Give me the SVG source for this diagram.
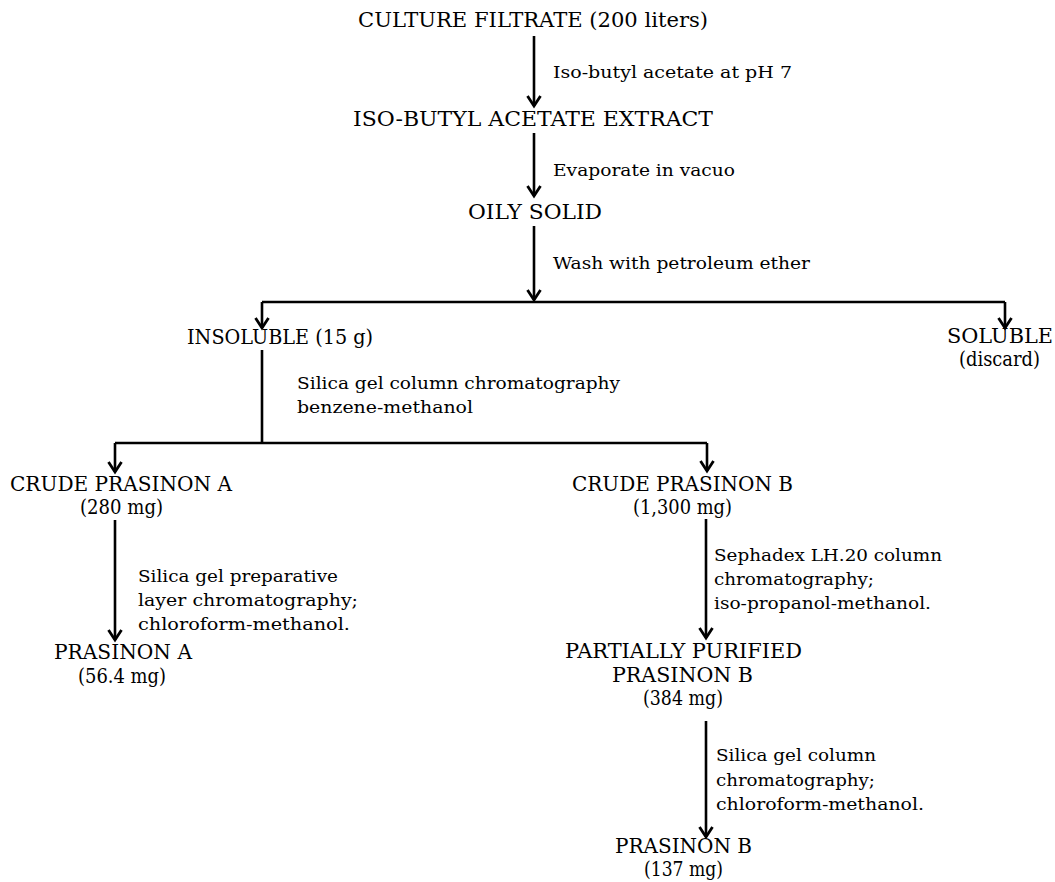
<svg xmlns="http://www.w3.org/2000/svg" width="1055" height="882" viewBox="0 0 1055 882">
<defs>
<style>
text{font-family:"DejaVu Serif","Liberation Serif",serif;fill:#000}
.n{font-size:20px}
.l{font-size:17px}
.ln{stroke:#000;stroke-width:2.6;fill:none}
</style>
<marker id="ah" markerUnits="userSpaceOnUse" orient="auto" refX="0" refY="0" overflow="visible">
<path d="M-10,-6.5 L0,0 L-10,6.5" fill="none" stroke="#000" stroke-width="2.8" stroke-linejoin="miter"/>
</marker>
</defs>
<rect width="1055" height="882" fill="#fff"/>
<g id="connectors" class="ln">
<line x1="534" y1="36" x2="534" y2="106" marker-end="url(#ah)"/>
<line x1="534" y1="133" x2="534" y2="196" marker-end="url(#ah)"/>
<line x1="534" y1="226" x2="534" y2="300" marker-end="url(#ah)"/>
<line x1="262" y1="302" x2="1005" y2="302"/>
<line x1="262" y1="302" x2="262" y2="328" marker-end="url(#ah)"/>
<line x1="1005" y1="302" x2="1005" y2="328" marker-end="url(#ah)"/>
<line x1="262" y1="350" x2="262" y2="443"/>
<line x1="115" y1="443" x2="707" y2="443"/>
<line x1="115" y1="443" x2="115" y2="472" marker-end="url(#ah)"/>
<line x1="707" y1="443" x2="707" y2="471" marker-end="url(#ah)"/>
<line x1="115" y1="520" x2="115" y2="640" marker-end="url(#ah)"/>
<line x1="706" y1="519" x2="706" y2="638" marker-end="url(#ah)"/>
<line x1="706" y1="721" x2="706" y2="837" marker-end="url(#ah)"/>
</g>
<g id="culture"><text class="n" x="358" y="27" textLength="350" lengthAdjust="spacingAndGlyphs">CULTURE FILTRATE (200 liters)</text></g>
<g id="lbl1"><text class="l" x="553" y="78" textLength="239" lengthAdjust="spacingAndGlyphs">Iso-butyl acetate at pH 7</text></g>
<g id="extract"><text class="n" x="353" y="126" textLength="360" lengthAdjust="spacingAndGlyphs">ISO-BUTYL ACETATE EXTRACT</text></g>
<g id="lbl2"><text class="l" x="553" y="176" textLength="182" lengthAdjust="spacingAndGlyphs">Evaporate in vacuo</text></g>
<g id="oily"><text class="n" x="468" y="219" textLength="134" lengthAdjust="spacingAndGlyphs">OILY SOLID</text></g>
<g id="lbl3"><text class="l" x="553" y="269" textLength="257" lengthAdjust="spacingAndGlyphs">Wash with petroleum ether</text></g>
<g id="insoluble"><text class="n" x="187" y="344" textLength="186" lengthAdjust="spacingAndGlyphs">INSOLUBLE (15 g)</text></g>
<g id="soluble">
<text class="n" x="947" y="343" textLength="106" lengthAdjust="spacingAndGlyphs">SOLUBLE</text>
<text class="n" x="959" y="366" textLength="81" lengthAdjust="spacingAndGlyphs">(discard)</text>
</g>
<g id="lbl4">
<text class="l" x="297" y="389" textLength="323" lengthAdjust="spacingAndGlyphs">Silica gel column chromatography</text>
<text class="l" x="297" y="413" textLength="176" lengthAdjust="spacingAndGlyphs">benzene-methanol</text>
</g>
<g id="crudeA">
<text class="n" x="10" y="491" textLength="222" lengthAdjust="spacingAndGlyphs">CRUDE PRASINON A</text>
<text class="n" x="80" y="514" textLength="83" lengthAdjust="spacingAndGlyphs">(280 mg)</text>
</g>
<g id="lbl5">
<text class="l" x="138" y="582" textLength="200" lengthAdjust="spacingAndGlyphs">Silica gel preparative</text>
<text class="l" x="138" y="606" textLength="220" lengthAdjust="spacingAndGlyphs">layer chromatography;</text>
<text class="l" x="138" y="630" textLength="212" lengthAdjust="spacingAndGlyphs">chloroform-methanol.</text>
</g>
<g id="prasA">
<text class="n" x="54" y="659" textLength="138" lengthAdjust="spacingAndGlyphs">PRASINON A</text>
<text class="n" x="78" y="683" textLength="88" lengthAdjust="spacingAndGlyphs">(56.4 mg)</text>
</g>
<g id="crudeB">
<text class="n" x="572" y="491" textLength="221" lengthAdjust="spacingAndGlyphs">CRUDE PRASINON B</text>
<text class="n" x="633" y="514" textLength="99" lengthAdjust="spacingAndGlyphs">(1,300 mg)</text>
</g>
<g id="lbl6">
<text class="l" x="714" y="561" textLength="228" lengthAdjust="spacingAndGlyphs">Sephadex LH.20 column</text>
<text class="l" x="714" y="585" textLength="160" lengthAdjust="spacingAndGlyphs">chromatography;</text>
<text class="l" x="714" y="609" textLength="217" lengthAdjust="spacingAndGlyphs">iso-propanol-methanol.</text>
</g>
<g id="partial">
<text class="n" x="565" y="658" textLength="237" lengthAdjust="spacingAndGlyphs">PARTIALLY PURIFIED</text>
<text class="n" x="612" y="682" textLength="141" lengthAdjust="spacingAndGlyphs">PRASINON  B</text>
<text class="n" x="643" y="705" textLength="80" lengthAdjust="spacingAndGlyphs">(384 mg)</text>
</g>
<g id="lbl7">
<text class="l" x="716" y="761" textLength="160" lengthAdjust="spacingAndGlyphs">Silica gel column</text>
<text class="l" x="716" y="786" textLength="159" lengthAdjust="spacingAndGlyphs">chromatography;</text>
<text class="l" x="716" y="810" textLength="208" lengthAdjust="spacingAndGlyphs">chloroform-methanol.</text>
</g>
<g id="prasB">
<text class="n" x="615" y="853" textLength="137" lengthAdjust="spacingAndGlyphs">PRASINON B</text>
<text class="n" x="644" y="876" textLength="79" lengthAdjust="spacingAndGlyphs">(137 mg)</text>
</g>
</svg>
